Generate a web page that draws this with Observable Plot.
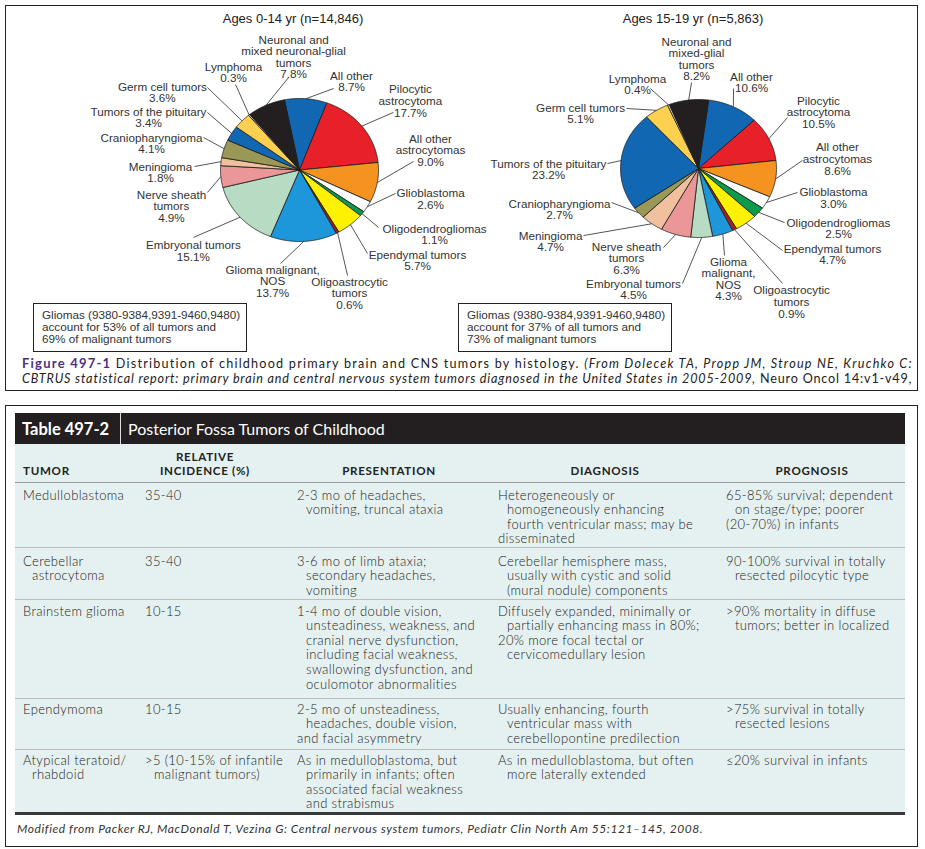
<!DOCTYPE html>
<html><head><meta charset="utf-8">
<script src="https://cdn.jsdelivr.net/npm/d3@7"></script>
<script src="https://cdn.jsdelivr.net/npm/@observablehq/plot@0.6"></script>
<style>
html,body{margin:0;padding:0;background:#fff;}
#page{position:relative;width:925px;height:849px;overflow:hidden;font-family:"Liberation Sans",Arial,sans-serif;color:#222;background:#fff;}
.abs{position:absolute;}
.nw{white-space:nowrap;}
.tb{font-family:"Lato","Liberation Sans",sans-serif;font-weight:300;font-size:13px;letter-spacing:0.35px;color:#222;line-height:14.6px;}
.th{font-family:"Lato","Liberation Sans",sans-serif;font-size:11.6px;letter-spacing:0.7px;font-weight:bold;color:#222;line-height:14px;}
</style></head><body><div id="page"></div>
<script>
// ---------------- DATA ----------------
const categories = ["All other","Pilocytic astrocytoma","All other astrocytomas","Glioblastoma","Oligodendrogliomas","Ependymal tumors","Oligoastrocytic tumors","Glioma malignant, NOS","Embryonal tumors","Nerve sheath tumors","Meningioma","Craniopharyngioma","Tumors of the pituitary","Germ cell tumors","Lymphoma","Neuronal and mixed neuronal-glial tumors"];
const pct0to14  = [8.7,17.7,9.0,2.6,1.1,5.7,0.6,13.7,15.1,4.9,1.8,4.1,3.4,3.6,0.3,7.8];
const pct15to19 = [10.6,10.5,8.6,3.0,2.5,4.7,0.9,4.3,4.5,6.3,4.7,2.7,23.2,5.1,0.4,8.2];
const sliceColors = ["#1167b1","#e8202a","#f4931f","#ffffff","#0c9a4b","#fff200","#a1231f","#1d97d9","#b7dcc3","#eb9697","#f1c09f","#9a9857","#1167b1","#fdd04f","#d9d3c6","#231f20"];
const labelNames0to14 = [["All other"],["Pilocytic","astrocytoma"],["All other","astrocytomas"],["Glioblastoma"],["Oligodendrogliomas"],["Ependymal tumors"],["Oligoastrocytic","tumors"],["Glioma malignant,","NOS"],["Embryonal tumors"],["Nerve sheath","tumors"],["Meningioma"],["Craniopharyngioma"],["Tumors of the pituitary"],["Germ cell tumors"],["Lymphoma"],["Neuronal and","mixed neuronal-glial","tumors"]];
const labelNames15to19 = [["All other"],["Pilocytic","astrocytoma"],["All other","astrocytomas"],["Glioblastoma"],["Oligodendrogliomas"],["Ependymal tumors"],["Oligoastrocytic","tumors"],["Glioma","malignant,","NOS"],["Embryonal tumors"],["Nerve sheath","tumors"],["Meningioma"],["Craniopharyngioma"],["Tumors of the pituitary"],["Germ cell tumors"],["Lymphoma"],["Neuronal and","mixed-glial","tumors"]];
const pieTitles = ["Ages 0-14 yr (n=14,846)","Ages 15-19 yr (n=5,863)"];
const noteLines = [["Gliomas (9380-9384,9391-9460,9480)","account for 53% of all tumors and","69% of malignant tumors"],["Gliomas (9380-9384,9391-9460,9480)","account for 37% of all tumors and","73% of malignant tumors"]];

const tableTitle = ["Table 497-2","Posterior Fossa Tumors of Childhood"];
const tableHeaders = [["TUMOR"],["RELATIVE","INCIDENCE (%)"],["PRESENTATION"],["DIAGNOSIS"],["PROGNOSIS"]];
// each cell: list of items, each item = list of lines (continuation lines get a hanging indent)
const tumorCol = [[["Medulloblastoma"]],[["Cerebellar","astrocytoma"]],[["Brainstem glioma"]],[["Ependymoma"]],[["Atypical teratoid/","rhabdoid"]]];
const incidenceCol = [[["35-40"]],[["35-40"]],[["10-15"]],[["10-15"]],[[">5 (10-15% of infantile","malignant tumors)"]]];
const presentationCol = [
  [["2-3 mo of headaches,","vomiting, truncal ataxia"]],
  [["3-6 mo of limb ataxia;","secondary headaches,","vomiting"]],
  [["1-4 mo of double vision,","unsteadiness, weakness, and","cranial nerve dysfunction,","including facial weakness,","swallowing dysfunction, and","oculomotor abnormalities"]],
  [["2-5 mo of unsteadiness,","headaches, double vision,"],["and facial asymmetry"]],
  [["As in medulloblastoma, but","primarily in infants; often","associated facial weakness","and strabismus"]]];
const diagnosisCol = [
  [["Heterogeneously or","homogeneously enhancing","fourth ventricular mass; may be"],["disseminated"]],
  [["Cerebellar hemisphere mass,","usually with cystic and solid","(mural nodule) components"]],
  [["Diffusely expanded, minimally or","partially enhancing mass in 80%;"],["20% more focal tectal or","cervicomedullary lesion"]],
  [["Usually enhancing, fourth","ventricular mass with","cerebellopontine predilection"]],
  [["As in medulloblastoma, but often","more laterally extended"]]];
const prognosisCol = [
  [["65-85% survival; dependent","on stage/type; poorer"],["(20-70%) in infants"]],
  [["90-100% survival in totally","resected pilocytic type"]],
  [[">90% mortality in diffuse","tumors; better in localized"]],
  [[">75% survival in totally","resected lesions"]],
  [["\u226420% survival in infants"]]];
const figCaption1 = [["Figure 497-1","fig"],[" Distribution of childhood primary brain and CNS tumors by histology. ","n"],["(From Dolecek TA, Propp JM, Stroup NE, Kruchko C:","i"]];
const figCaption2 = [["CBTRUS statistical report: primary brain and central nervous system tumors diagnosed in the United States in 2005-2009,","i"],[" Neuro Oncol 14:v1-v49,","n"]];
const tableSource = "Modified from Packer RJ, MacDonald T, Vezina G: Central nervous system tumors, Pediatr Clin North Am 55:121\u2013145, 2008.";

// ---------------- LAYOUT (not data) ----------------
// leader end: [angle deg clockwise from top, radius multiple]; text offset from leader end [dx px to block centre, dy px to first-line centre]
const layout0to14 = [[20.7,1.218,18,-13],[55.9,1.436,17,-23],[85.3,1.448,17,-23],[105.1,1.259,35,0],[128.8,1.283,56,1],[143.6,1.451,50,1],[157.6,1.596,2,6],[190.4,1.33,-8,6],[234.9,1.641,0,8],[254.9,1.207,-36,2],[272.1,1.33,-34,0],[290.5,1.297,-52,0],[304.6,1.415,-59,-1],[314.7,1.64,-45,-1],[325.9,1.444,-2,-18],[353.9,1.301,5,-38]];
const layout15to19 = [[21.2,1.243,18,-12],[57.1,1.359,31,-17],[85.0,1.338,35,-13],[105.3,1.316,36,0],[125.4,1.352,54,0],[137.8,1.604,50,-2],[147.1,1.984,9,7],[165.2,1.304,4,6],[187.0,1.679,-49,0],[201.4,1.23,-37,-1],[236.6,1.765,-33,0],[246.1,1.219,-52,1],[273.5,1.169,-59,0],[313.3,1.268,-46,-1],[332.0,1.312,-13,-10],[355.9,1.249,5,-41]];
const geoms = [
  {left:6, top:28, width:454, height:290, cx:293, cy:141.5, rx:79, ry:71.5, start:-11},
  {left:460, top:28, width:457, height:290, cx:238, cy:140, rx:78, ry:69, start:7.5}];

const page = document.getElementById("page");
function add(parent, style, html, cls){const d=document.createElement("div");d.className="abs "+(cls||"");d.style.cssText=style;if(html!=null)d.innerHTML=html;parent.appendChild(d);return d;}
function fit(node, target){const w=node.getBoundingClientRect().width;const n=node.textContent.length;node.style.letterSpacing=((target-w)/n)+"px";}

// ---------------- TOP FIGURE ----------------
add(page,"left:5px;top:5px;width:911px;height:384px;border:1px solid #222;");
const FS = 11.7;
function pieChart(values, names, lay, g){
  const arcs = d3.pie().sort(null).value(d=>d).startAngle(g.start*Math.PI/180).endAngle((g.start+360)*Math.PI/180)(values);
  const pts = [];
  arcs.forEach((a,i)=>{
    const n = Math.max(2, Math.ceil((a.endAngle-a.startAngle)/(Math.PI/360)));
    pts.push({cat:categories[i],x:0,y:0});
    for(let k=0;k<=n;k++){const t=a.startAngle+(a.endAngle-a.startAngle)*k/n;pts.push({cat:categories[i],x:Math.sin(t),y:Math.cos(t)});}
    pts.push({cat:categories[i],x:0,y:0});
  });
  const lab = arcs.map((a,i)=>{
    const mid=(a.startAngle+a.endAngle)/2, L=lay[i], ea=L[0]*Math.PI/180;
    const ex=L[1]*Math.sin(ea), ey=L[1]*Math.cos(ea);
    return {x1:Math.sin(mid),y1:Math.cos(mid),x2:ex,y2:ey,
      tx:ex+L[2]/g.rx, ty:ey-(L[3]-0.36*FS)/g.ry,
      text:[...names[i], d3.format(".1f")(values[i])+"%"].join("\n")};
  });
  return Plot.plot({
    width:g.width, height:g.height, margin:0,
    x:{domain:[-g.cx/g.rx,(g.width-g.cx)/g.rx], axis:null},
    y:{domain:[-(g.height-g.cy)/g.ry, g.cy/g.ry], axis:null},
    color:{domain:categories, range:sliceColors},
    style:{background:"transparent", overflow:"visible"},
    marks:[
      Plot.line(pts,{x:"x",y:"y",z:"cat",fill:"cat",stroke:"#1a1a1a",strokeWidth:0.8,strokeLinejoin:"round"}),
      Plot.link(lab,{x1:"x1",y1:"y1",x2:"x2",y2:"y2",stroke:"#2a2a2a",strokeWidth:0.8}),
      Plot.text(lab,{x:"tx",y:"ty",text:"text",textAnchor:"middle",lineAnchor:"top",lineHeight:0.99,fontSize:FS,fontFamily:"Liberation Sans, Arial, sans-serif",fill:"#333"})
    ]
  });
}
const pieData = [[pct0to14,labelNames0to14,layout0to14],[pct15to19,labelNames15to19,layout15to19]];
pieData.forEach((p,k)=>{
  const g=geoms[k];
  const holder=add(page,`left:${g.left}px;top:${g.top}px;width:${g.width}px;height:${g.height}px;`);
  holder.appendChild(pieChart(p[0],p[1],p[2],g));
});
const titleCenters=[293,693];
pieTitles.forEach((t,k)=>{add(page,`left:${titleCenters[k]-150}px;top:11px;width:300px;text-align:center;font-size:13px;line-height:16px;color:#222;`,t,"nw");});
const noteBoxes=[{l:33,t:303},{l:458,t:303}];
noteLines.forEach((ls,k)=>{add(page,`left:${noteBoxes[k].l}px;top:${noteBoxes[k].t}px;width:204px;height:42px;padding:5px 0 0 8px;border:1px solid #222;background:#fff;font-size:11.7px;line-height:11.8px;color:#333;`,ls.join("<br>"),"nw");});
// figure caption
function capLine(parts, top, target){
  const d=add(page,`left:22px;top:${top}px;font-family:'Lato','Liberation Sans',sans-serif;font-size:12.6px;line-height:16px;color:#222;`,null,"nw");
  parts.forEach(([t,s])=>{const sp=document.createElement("span");sp.textContent=t;
    if(s==="fig"){sp.style.color="#4b2e86";sp.style.fontWeight="bold";sp.style.fontSize="13px";}
    if(s==="i"){sp.style.fontStyle="italic";}
    d.appendChild(sp);});
  fit(d,target);return d;
}
capLine(figCaption1,355,891);
capLine(figCaption2,371,890);

// ---------------- TABLE ----------------
add(page,"left:5px;top:405px;width:911px;height:440px;border:1px solid #222;");
add(page,"left:15px;top:413px;width:890px;height:31px;background:#231f20;");
add(page,"left:120px;top:413px;width:1px;height:31px;background:#ddd;");
add(page,"left:22px;top:419px;font-family:'Lato','Liberation Sans',sans-serif;font-weight:bold;font-size:16.5px;line-height:20px;color:#fff;",tableTitle[0],"nw");
add(page,"left:128px;top:419px;font-family:'Lato','Liberation Sans',sans-serif;font-size:16px;line-height:20px;color:#fff;",tableTitle[1],"nw");
add(page,"left:15px;top:444px;width:890px;height:369px;background:#e5f1f0;");
const colLefts=[23,145,297,498,726];
const headerWidths=[100,120,184,214,172];
tableHeaders.forEach((h,c)=>{
  const top = 478 - h.length*14;
  add(page,`left:${colLefts[c]}px;top:${top}px;width:${headerWidths[c]}px;text-align:${c===0?"left":"center"};`,h.join("<br>"),"th nw");
});
const rowTops=[482,547,599,698,749], rowEnd=813, firstLine=[495,561,611,709,760];
add(page,"left:15px;top:482px;width:890px;height:1px;background:#9c9c9c;");
rowTops.slice(1).forEach(t=>add(page,`left:15px;top:${t}px;width:890px;height:1px;background:#bdbdbd;`));
add(page,`left:15px;top:${rowEnd-1}px;width:890px;height:3px;background:#3a3a3a;`);
const cols=[tumorCol,incidenceCol,presentationCol,diagnosisCol,prognosisCol];
rowTops.forEach((rt,r)=>{
  cols.forEach((col,c)=>{
    const html = col[r].map(item=>item.map((ln,j)=>`<div style="padding-left:${j?9:0}px">${ln.replace(/&/g,"&amp;").replace(/</g,"&lt;").replace(/>/g,"&gt;")}</div>`).join("")).join("");
    add(page,`left:${colLefts[c]}px;top:${firstLine[r]-7.3}px;`,html,"tb nw");
  });
});
const src=add(page,"left:17px;top:821px;font-family:'Lato','Liberation Sans',sans-serif;font-style:italic;font-size:12px;line-height:16px;color:#333;",null,"nw");
src.textContent=tableSource; fit(src,686);
</script></body></html>
